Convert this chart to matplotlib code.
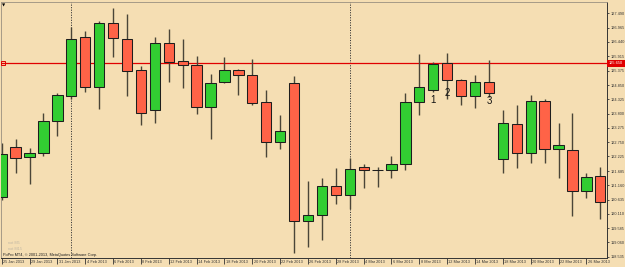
import matplotlib
matplotlib.use('Agg')
import matplotlib.pyplot as plt
import matplotlib.transforms as mtransforms

# ---------------- data ----------------
dates = ['25 Jan 2013', '28 Jan 2013', '29 Jan 2013', '30 Jan 2013', '31 Jan 2013',
         '1 Feb 2013', '4 Feb 2013', '5 Feb 2013', '6 Feb 2013', '7 Feb 2013', '8 Feb 2013',
         '11 Feb 2013', '12 Feb 2013', '13 Feb 2013', '14 Feb 2013', '15 Feb 2013',
         '18 Feb 2013', '19 Feb 2013', '20 Feb 2013', '21 Feb 2013', '22 Feb 2013',
         '25 Feb 2013', '26 Feb 2013', '27 Feb 2013', '28 Feb 2013', '1 Mar 2013',
         '4 Mar 2013', '5 Mar 2013', '6 Mar 2013', '7 Mar 2013', '8 Mar 2013',
         '11 Mar 2013', '12 Mar 2013', '13 Mar 2013', '14 Mar 2013', '15 Mar 2013',
         '18 Mar 2013', '19 Mar 2013', '20 Mar 2013', '21 Mar 2013', '22 Mar 2013',
         '25 Mar 2013', '26 Mar 2013', '27 Mar 2013']

opens = [120.742, 122.560, 122.214, 122.339, 123.516, 124.458, 126.607, 124.789, 127.122,
         126.544, 125.404, 123.943, 126.386, 125.735, 125.588, 124.053, 124.973, 125.393,
         125.209, 124.215, 122.766, 124.914, 119.859, 120.080, 121.136, 120.794, 121.824,
         121.713, 121.713, 121.934, 124.215, 124.668, 125.650, 125.036, 124.458, 124.962,
         122.118, 123.428, 122.339, 124.263, 122.486, 122.460, 120.952, 121.504]
highs = [122.718, 122.854, 122.523, 123.833, 124.568, 126.975, 126.838, 127.206, 127.696,
         127.464, 125.551, 126.607, 126.912, 126.544, 125.930, 125.256, 125.871, 125.440,
         125.808, 124.668, 123.748, 125.183, 121.320, 121.419, 121.787, 122.155, 121.945,
         121.824, 122.239, 124.568, 125.981, 125.698, 126.040, 125.072, 125.220, 125.772,
         123.943, 124.116, 124.473, 124.337, 123.443, 123.833, 121.625, 121.846]
lows = [120.621, 121.603, 121.198, 122.239, 122.975, 124.337, 124.583, 123.969, 125.893,
        124.447, 123.380, 123.465, 124.962, 124.730, 123.774, 122.854, 124.925, 124.484,
        124.116, 122.214, 122.497, 118.682, 118.902, 119.149, 120.473, 120.290, 121.073,
        121.088, 121.441, 121.724, 123.748, 124.605, 124.337, 124.116, 124.017, 124.421,
        121.603, 121.787, 121.971, 121.993, 121.419, 120.043, 120.683, 119.910]
closes = [122.313, 122.177, 122.339, 123.527, 124.473, 126.533, 124.789, 127.122, 126.570,
          125.378, 123.822, 126.386, 125.709, 125.588, 124.042, 124.914, 125.404, 125.209,
          124.201, 122.766, 123.170, 119.859, 120.069, 121.136, 120.794, 121.772, 121.724,
          121.713, 121.934, 124.226, 124.789, 125.635, 125.025, 124.458, 124.962, 124.546,
          123.443, 122.361, 124.263, 122.486, 122.644, 120.952, 121.456, 120.536]

price_ticks = [118.535, 119.060, 119.585, 120.110, 120.635, 121.160, 121.685, 122.225,
               122.750, 123.275, 123.800, 124.325, 124.850, 125.375, 125.915, 126.440,
               126.965, 127.490]
price_labels = ['118.535', '119.060', '119.585', '120.110', '120.635', '121.160', '121.685',
                '122.225', '122.750', '123.275', '123.800', '124.325', '124.850', '125.375',
                '125.915', '126.440', '126.965', '127.490']

current_price = 125.650
current_label = '125.650'

marks = ['1', '2', '3']
mark_bars = [31, 32, 35]
mark_prices = [124.300, 124.557, 124.263]

copyright_text = 'PoPro MT4, \u00a9 2001-2013, MetaQuotes Software Corp.'

# ---------------- style ----------------
BG = '#F5DEB3'
BULL = '#32CD32'
BEAR = '#FF6347'
WICK = '#4a4538'
EDGE = '#1e1e1e'
FONT = ['Liberation Sans', 'DejaVu Sans']
SMALL = 2.8

W, H = 625, 267
fig = plt.figure(figsize=(W / 100, H / 100), dpi=100, facecolor=BG)
left_px, right_px, top_px, bot_px = 1, 607, 2, 257.5
ax = fig.add_axes([left_px / W, (H - bot_px) / H,
                   (right_px - left_px) / W, (bot_px - top_px) / H])
ax.set_facecolor(BG)

n = len(dates)
xs = list(range(n))

# wicks
ax.vlines(xs, lows, highs, color=WICK, lw=1.0, zorder=2)

# bodies
bottoms = [min(o, c) for o, c in zip(opens, closes)]
heights = [abs(c - o) for o, c in zip(opens, closes)]
colors = [BULL if c > o else (BEAR if c < o else 'black') for o, c in zip(opens, closes)]
ax.bar(xs, heights, bottom=bottoms, width=0.74, color=colors, edgecolor=EDGE,
       linewidth=0.75, zorder=3)

# period separators (month starts)
months = [d.split()[1] for d in dates]
for i in range(1, n):
    if months[i] != months[i - 1]:
        ax.axvline(i, color='#3a3a3a', lw=0.7, linestyle=(0, (1.2, 1.4)), zorder=1)

# current price line
ax.axhline(current_price, color='#E00000', lw=0.9, zorder=1)
blend_xa = mtransforms.blended_transform_factory(ax.transAxes, ax.transData)
ax.plot([0.003], [current_price], marker='s', ms=2.4, mfc='none', mec='#E00000',
        mew=0.7, transform=blend_xa, clip_on=False, zorder=5)
ax.text(1.0 + 2.0 / (right_px - left_px), current_price, current_label,
        transform=blend_xa, ha='left', va='center', fontsize=SMALL, color='white',
        family=FONT, zorder=6,
        bbox=dict(boxstyle='square,pad=0.45', fc='#E00000', ec='none'))

# axis limits
ax.set_xlim(-0.05, 43.48)
ax.set_ylim(118.505, 127.905)

# y axis on the right
ax.yaxis.tick_right()
ax.set_yticks(price_ticks)
ax.set_yticklabels(price_labels, family=FONT)
ax.tick_params(axis='y', direction='out', length=1.6, width=0.6, pad=1.2,
               labelsize=SMALL, colors='#333333')

# x axis dates
ax.set_xticks(xs[::2])
ax.set_xticklabels(dates[::2], family=FONT)
ax.tick_params(axis='x', direction='out', length=4, width=0.6, pad=-2.3,
               labelsize=SMALL, colors='#333333')
offset = mtransforms.ScaledTranslation(1.3 / 100, 0, fig.dpi_scale_trans)
for lab in ax.get_xticklabels():
    lab.set_ha('left')
    lab.set_transform(lab.get_transform() + offset)

# spines
for s in ['top', 'left']:
    ax.spines[s].set_color('#9a9080')
    ax.spines[s].set_linewidth(0.6)
for s in ['right', 'bottom']:
    ax.spines[s].set_color('#333333')
    ax.spines[s].set_linewidth(0.7)

# annotations 1, 2, 3
for t, b, p in zip(marks, mark_bars, mark_prices):
    ax.text(b, p, t, ha='center', va='center', fontsize=7, color='#111111',
            family=FONT, zorder=7)

# texts in the lower-left corner
aw = right_px - left_px
ah = bot_px - top_px
ax.text(2.0 / aw, (bot_px - 255.3) / ah, copyright_text, transform=ax.transAxes,
        ha='left', va='center', fontsize=SMALL, color='#1e1e1e', family=FONT)
ax.text(7.0 / aw, (bot_px - 243.5) / ah, 'not M5', transform=ax.transAxes,
        ha='left', va='center', fontsize=SMALL, color='#c2b8a4', family=FONT)
ax.text(7.0 / aw, (bot_px - 248.5) / ah, 'not M15', transform=ax.transAxes,
        ha='left', va='center', fontsize=SMALL, color='#c2b8a4', family=FONT)

# small one-click icon at top-left
ax.text(3.0 / aw, 1 - 3.5 / ah, '\u25bc', transform=ax.transAxes, ha='center',
        va='center', fontsize=3, color='black', family=['DejaVu Sans'])

fig.savefig('out.png', dpi=100, facecolor=BG)
